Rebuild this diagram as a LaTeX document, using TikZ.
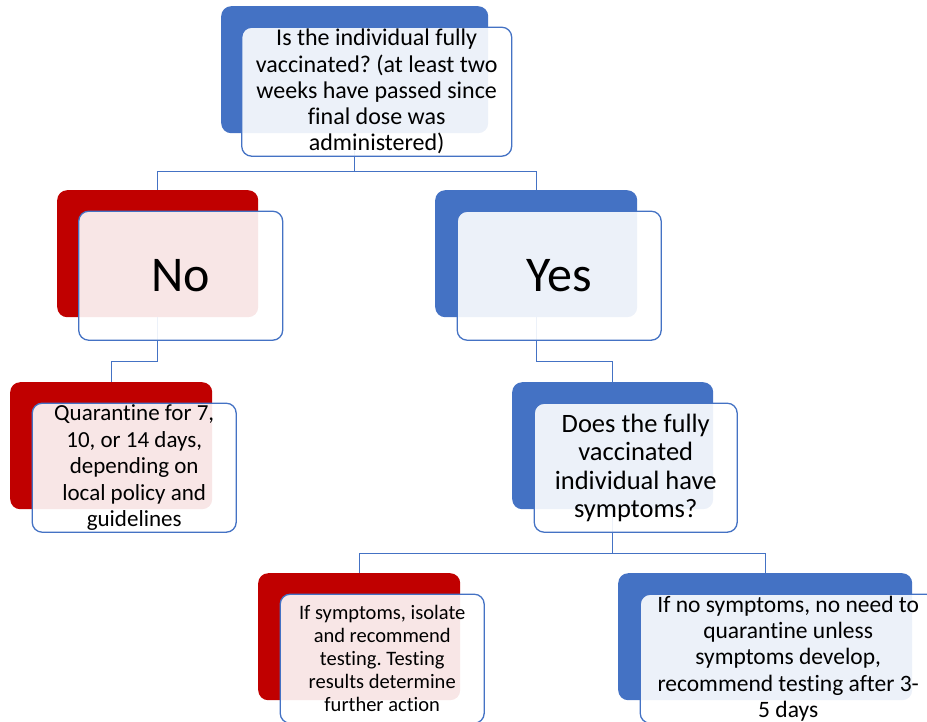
\documentclass[tikz,border=0pt]{standalone}
\usepackage{fontspec}
\setmainfont{Carlito}[RawFeature={-liga;-clig;-calt;-dlig}]
\usetikzlibrary{positioning}
\definecolor{boxblue}{HTML}{4472C4}
\definecolor{boxred}{HTML}{C00000}
\frenchspacing

\begin{document}
\begin{tikzpicture}
  [x=1pt, y=-1pt,
   backnode/.style={rectangle,
                    rounded corners=10pt,
                    inner sep=0pt,
                    anchor=north west,
                    minimum height=127pt},
   bluenode/.style={backnode, fill=boxblue},
   rednode/.style={backnode, fill=boxred},
   textnode/.style={rectangle,
                    rounded corners=10pt,
                    draw=boxblue,
                    line width=1.3pt,
                    fill=white,
                    fill opacity=0.9,
                    text opacity=1,
                    align=center,
                    inner sep=0pt,
                    minimum height=129pt},
   link/.style={draw=boxblue, line width=1.2pt}]
  \clip (0,0) rectangle (927,721);
  % coloured back plates
  \node[bluenode, minimum width=267pt] (vacc-b) at (221,6)   {};
  \node[rednode,  minimum width=201pt] (no-b)   at (57,190)  {};
  \node[bluenode, minimum width=202pt] (yes-b)  at (435,190) {};
  \node[rednode,  minimum width=202pt] (quar-b) at (10,382)  {};
  \node[bluenode, minimum width=201pt] (symp-b) at (512,382) {};
  \node[rednode,  minimum width=202pt] (iso-b)  at (258,573) {};
  \node[bluenode, minimum width=294pt] (nosy-b) at (618,573) {};
  % connectors
  \draw[link] (vacc-b.south) -- ++(0,38) -| (no-b.north);
  \draw[link] (vacc-b.south) -- ++(0,38) -| (yes-b.north);
  \draw[link] (no-b.south)   -- ++(0,44) -| (quar-b.north);
  \draw[link] (yes-b.south)  -- ++(0,44) -| (symp-b.north);
  \draw[link] (symp-b.south) -- ++(0,44) -| (iso-b.north);
  \draw[link] (symp-b.south) -- ++(0,44) -| (nosy-b.north);
  % text boxes
  \node[textnode, minimum width=270pt, font=\fontsize{24}{26.3}\selectfont]
    (vacc) at ([shift={(22,22)}]vacc-b.center)
    {Is the individual fully\\vaccinated? (at least two\\weeks have passed since\\final dose was\\administered)};
  \node[textnode, minimum width=204pt, font=\fontsize{50}{56}\selectfont]
    (no) at ([shift={(23,22)}]no-b.center) {No};
  \node[textnode, minimum width=204pt, font=\fontsize{50}{56}\selectfont]
    (yes) at ([shift={(23,22)}]yes-b.center) {Yes};
  \node[textnode, minimum width=204pt, font=\fontsize{23}{26.5}\selectfont]
    (quar) at ([shift={(23,22)}]quar-b.center)
    {Quarantine for 7,\\10, or 14 days,\\depending on\\local policy and\\guidelines};
  \node[textnode, minimum width=203pt, font=\fontsize{26.5}{28.5}\selectfont]
    (symp) at ([shift={(23,22)}]symp-b.center)
    {Does the fully\\vaccinated\\individual have\\symptoms?};
  \node[textnode, minimum width=204pt, font=\fontsize{20.5}{23}\selectfont]
    (iso) at ([shift={(23,22)}]iso-b.center)
    {If symptoms, isolate\\and recommend\\testing. Testing\\results determine\\further action};
  \node[textnode, minimum width=296pt, font=\fontsize{23.5}{26.3}\selectfont]
    (nosy) at ([shift={(23,22)}]nosy-b.center)
    {If no symptoms, no need to\\quarantine unless\\symptoms develop,\\recommend testing after 3-\\5 days};
\end{tikzpicture}
\end{document}
